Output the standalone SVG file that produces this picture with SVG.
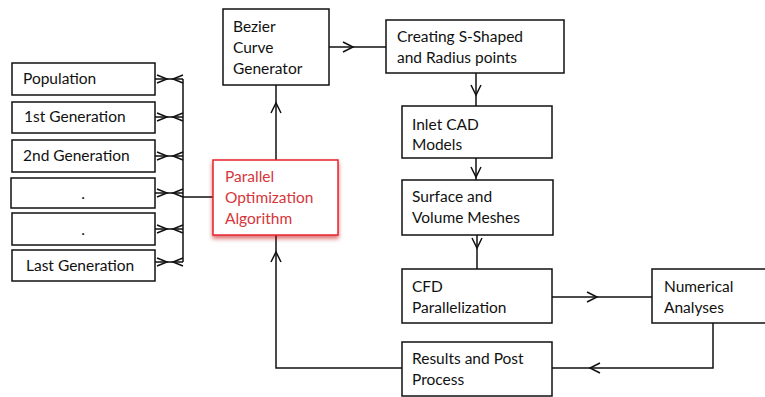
<svg xmlns="http://www.w3.org/2000/svg" width="765" height="397" viewBox="0 0 765 397">
<defs>
<style>
.box{fill:#fff;stroke:#111;stroke-width:1.5}
.t{font-family:Lato,"Open Sans",sans-serif;font-size:15.5px;fill:#111}
.r{fill:#d6363b}
.ln{fill:none;stroke:#111;stroke-width:1.5}
</style>
<filter id="sh" x="-10%" y="-10%" width="120%" height="130%">
<feGaussianBlur in="SourceAlpha" stdDeviation="2"/>
<feOffset dx="0" dy="3" result="b"/>
<feFlood flood-color="#c00000" flood-opacity="0.55"/>
<feComposite in2="b" operator="in"/>
<feMerge><feMergeNode/><feMergeNode in="SourceGraphic"/></feMerge>
</filter>
</defs>
<rect width="765" height="397" fill="#fff"/>
<g id="connectors" class="ln">
<path d="M183 79V262"/>
<path d="M155 79H183M155 117H183M155 156H183M155 193H183M155 229H183M155 262H183"/>
<path d="M157 75L167 79L157 83M183 75L173 79L183 83"/>
<path d="M157 113L167 117L157 121M183 113L173 117L183 121"/>
<path d="M157 152L167 156L157 160M183 152L173 156L183 160"/>
<path d="M157 189L167 193L157 197M183 189L173 193L183 197"/>
<path d="M157 225L167 229L157 233M183 225L173 229L183 233"/>
<path d="M157 258L167 262L157 266M183 258L173 262L183 266"/>
<path d="M183 197H213"/>
<path d="M276 160V85"/>
<path d="M271 113L276 103L281 113"/>
<path d="M329 47H386"/>
<path d="M343 42L353 47L343 52"/>
<path d="M476 73V106"/>
<path d="M471 85L476 95L481 85"/>
<path d="M476 158V180"/>
<path d="M471 167L476 177L481 167"/>
<path d="M477 235V269"/>
<path d="M472 238L477 248L482 238"/>
<path d="M552 297H652"/>
<path d="M587 292L597 297L587 302"/>
<path d="M713 323V368H552"/>
<path d="M600 363L590 368L600 373"/>
<path d="M402 368H276V235"/>
<path d="M271 262L276 252L281 262"/>
</g>
<g id="population"><rect class="box" x="12" y="63" width="143" height="32"/><text class="t" x="23" y="84">Population</text></g>
<g id="gen1"><rect class="box" x="12" y="102" width="143" height="31"/><text class="t" x="24" y="122">1st Generation</text></g>
<g id="gen2"><rect class="box" x="12" y="140" width="143" height="32"/><text class="t" x="23" y="161">2nd Generation</text></g>
<g id="dot1"><rect class="box" x="11" y="178" width="144" height="30"/><text class="t" x="83" y="199" text-anchor="middle">.</text></g>
<g id="dot2"><rect class="box" x="12" y="213" width="143" height="32"/><text class="t" x="83" y="235" text-anchor="middle">.</text></g>
<g id="lastgen"><rect class="box" x="12" y="250" width="143" height="31"/><text class="t" x="26" y="271">Last Generation</text></g>
<g id="parallel"><rect x="213" y="160" width="125" height="75" fill="#fff" stroke="#e8232b" stroke-width="1.5" filter="url(#sh)"/><text class="t r" x="225" y="182">Parallel</text><text class="t r" x="225" y="203">Optimization</text><text class="t r" x="225" y="224">Algorithm</text></g>
<g id="bezier"><rect class="box" x="223" y="9" width="106" height="76"/><text class="t" x="233" y="32">Bezier</text><text class="t" x="233" y="53">Curve</text><text class="t" x="233" y="74">Generator</text></g>
<g id="creating"><rect class="box" x="386" y="20" width="178" height="53"/><text class="t" x="397" y="42">Creating S-Shaped</text><text class="t" x="397" y="63">and Radius points</text></g>
<g id="inlet"><rect class="box" x="402" y="106" width="150" height="52"/><text class="t" x="412" y="130">Inlet CAD</text><text class="t" x="412" y="150">Models</text></g>
<g id="surface"><rect class="box" x="402" y="180" width="151" height="55"/><text class="t" x="412" y="202">Surface and</text><text class="t" x="412" y="223">Volume Meshes</text></g>
<g id="cfd"><rect class="box" x="402" y="269" width="150" height="54"/><text class="t" x="412" y="292">CFD</text><text class="t" x="412" y="313">Parallelization</text></g>
<g id="numerical"><rect class="box" x="652" y="269" width="120" height="54"/><text class="t" x="664" y="292">Numerical</text><text class="t" x="664" y="313">Analyses</text></g>
<g id="results"><rect class="box" x="402" y="342" width="150" height="54"/><text class="t" x="412" y="364">Results and Post</text><text class="t" x="412" y="385">Process</text></g>
</svg>
